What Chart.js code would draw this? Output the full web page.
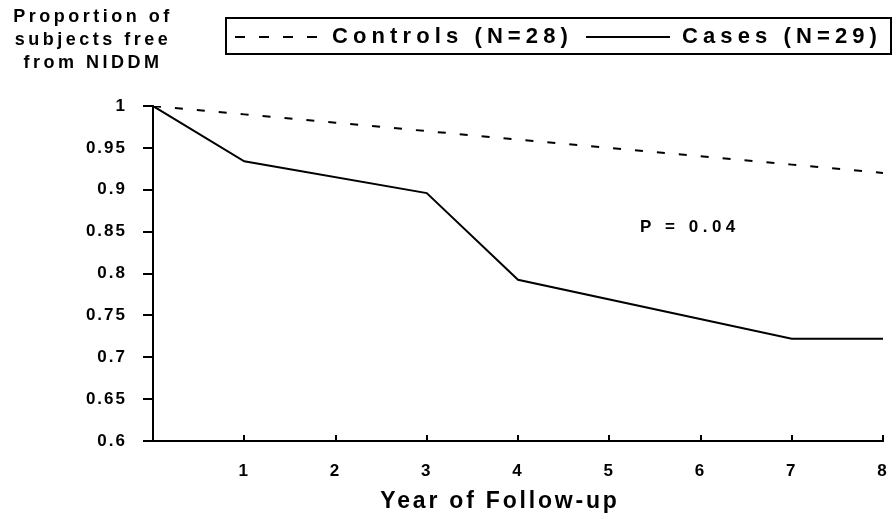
<!DOCTYPE html>
<html>
<head>
<meta charset="utf-8">
<script src="https://cdn.jsdelivr.net/npm/chart.js@4"></script>
<style>
  html, body { margin: 0; padding: 0; background: #fff; }
  canvas { display: block; }
</style>
</head>
<body>
<canvas id="survChart" width="893" height="519"></canvas>
<script>
// values
const yearTicks = [1, 2, 3, 4, 5, 6, 7, 8];
const controlYears = [0, 1, 2, 3, 4, 5, 6, 7, 8];
const controlFree = [1, 0.99, 0.98, 0.97, 0.96, 0.95, 0.94, 0.93, 0.92];
const caseYears = [0, 1, 3, 4, 7, 8];
const caseFree = [1, 0.934, 0.896, 0.7925, 0.722, 0.722];
const legendLabels = ["Controls (N=28)", "Cases (N=29)"];
const yTitleLines = ["Proportion of", "subjects free", "from NIDDM"];
const xTitle = "Year of Follow-up";
const pText = "P = 0.04";

const FONT = "'Liberation Sans', Arial, sans-serif";

const toPoints = (xs, ys) => xs.map((x, i) => ({ x: x, y: ys[i] }));

function drawText(ctx, txt, x, y, size, spacing, align) {
  ctx.save();
  ctx.font = "bold " + size + "px " + FONT;
  ctx.letterSpacing = spacing + "px";
  ctx.fillStyle = "#000";
  ctx.textAlign = align || "left";
  ctx.textBaseline = "middle";
  ctx.fillText(txt, x, y);
  ctx.restore();
}

const figureBits = {
  id: "figureBits",
  beforeDraw(chart) {
    chart.ctx.letterSpacing = "2px";
  },
  afterDraw(chart) {
    const ctx = chart.ctx;
    const xs = chart.scales.x;
    const area = chart.chartArea;

    // small x ticks pointing up into the plot
    ctx.save();
    ctx.strokeStyle = "#000";
    ctx.lineWidth = 2;
    yearTicks.forEach(v => {
      const px = Math.round(xs.getPixelForValue(v));
      ctx.beginPath();
      ctx.moveTo(px, area.bottom);
      ctx.lineTo(px, area.bottom - 6);
      ctx.stroke();
    });
    ctx.restore();

    // y title top-left
    yTitleLines.forEach((line, i) => drawText(ctx, line, 93, 17 + i * 23, 18, 3.5, "center"));

    // legend box
    ctx.save();
    ctx.strokeStyle = "#000";
    ctx.lineWidth = 2;
    ctx.strokeRect(226, 18, 665, 36);
    ctx.setLineDash([10, 14]);
    ctx.beginPath();
    ctx.moveTo(235, 37);
    ctx.lineTo(317, 37);
    ctx.stroke();
    ctx.setLineDash([]);
    ctx.beginPath();
    ctx.moveTo(586, 37);
    ctx.lineTo(670, 37);
    ctx.stroke();
    ctx.restore();
    drawText(ctx, legendLabels[0], 332, 37, 22, 5.1);
    drawText(ctx, legendLabels[1], 682, 37, 22, 5.1);

    drawText(ctx, pText, 640, 227, 17, 4.5);
    drawText(ctx, xTitle, 500, 502, 23, 2.8, "center");
  }
};

new Chart(document.getElementById("survChart"), {
  type: "line",
  data: {
    datasets: [
      {
        label: legendLabels[0],
        data: toPoints(controlYears, controlFree),
        borderColor: "#000",
        borderWidth: 2,
        borderDash: [8, 14],
        pointRadius: 0,
        tension: 0,
        fill: false
      },
      {
        label: legendLabels[1],
        data: toPoints(caseYears, caseFree),
        borderColor: "#000",
        borderWidth: 2,
        pointRadius: 0,
        tension: 0,
        fill: false
      }
    ]
  },
  options: {
    responsive: false,
    animation: false,
    layout: { padding: { top: 106, right: 10, left: 0, bottom: 0 } },
    plugins: { legend: { display: false }, tooltip: { enabled: false } },
    scales: {
      x: {
        type: "linear",
        min: 0,
        max: 8,
        afterFit: s => { s.height = 78; s.paddingLeft = 0; s.paddingRight = 0; },
        grid: { drawOnChartArea: false, drawTicks: false },
        border: { color: "#000", width: 2 },
        ticks: {
          stepSize: 1,
          autoSkip: false,
          maxRotation: 0,
          padding: 20,
          color: "#000",
          font: { family: FONT, weight: "bold", size: 17 },
          callback: v => (v === 0 ? "" : v)
        }
      },
      y: {
        min: 0.6,
        max: 1,
        afterFit: s => { s.width = 153; s.paddingTop = 0; s.paddingBottom = 0; },
        grid: { drawOnChartArea: false, drawTicks: true, tickLength: 10, color: "#000", lineWidth: 2 },
        border: { color: "#000", width: 2 },
        ticks: {
          stepSize: 0.05,
          padding: 16,
          color: "#000",
          font: { family: FONT, weight: "bold", size: 17 },
          callback: v => String(Number(v.toFixed(2)))
        }
      }
    }
  },
  plugins: [figureBits]
});
</script>
</body>
</html>
